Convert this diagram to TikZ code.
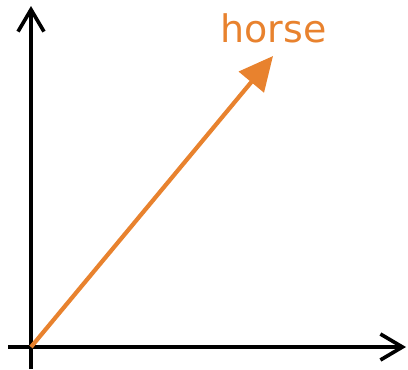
\documentclass[tikz,border=0pt]{standalone}
\usepackage{fontspec}
\setmainfont{DejaVu Sans}
\usetikzlibrary{arrows.meta}
\definecolor{horseorange}{RGB}{232,130,46}

\begin{document}
\begin{tikzpicture}[
  axis/.style={line width=2.6pt, -{Straight Barb[length=5.5mm, width=6.5mm, line width=2.6pt]}},
  vec/.style={line width=3pt, horseorange, -{Triangle[length=8.5mm, width=8mm]}},
  word/.style={text=horseorange, font=\fontsize{27}{31}\selectfont, anchor=base, inner sep=0pt}
]
\useasboundingbox (0,0) rectangle (10.2,9.225);
\coordinate (origin) at (0.775,0.55);
\coordinate (xstart) at (0.2,0.55);
\coordinate (xend) at (10.15,0.55);
\coordinate (ystart) at (0.775,0);
\coordinate (yend) at (0.775,9.075);
\coordinate (horsetip) at (6.825,7.825);
\node[word] (horse) at (6.84,8.175) {horse};
\draw[axis] (xstart) -- (xend);
\draw[axis] (ystart) -- (yend);
\draw[vec] (origin) -- (horsetip);
\end{tikzpicture}
\end{document}
